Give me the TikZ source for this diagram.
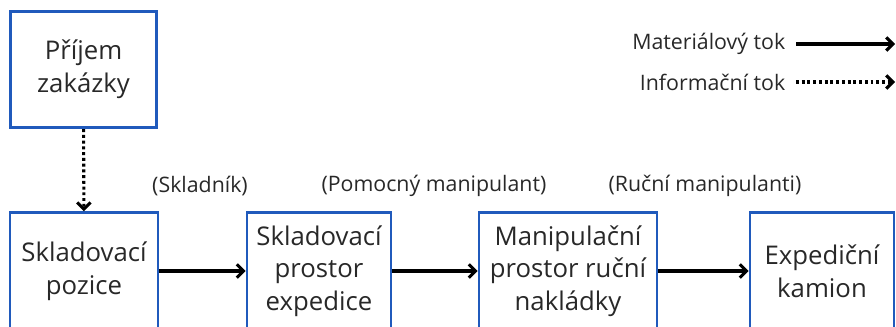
\documentclass[tikz,border=0pt]{standalone}
\usepackage{fontspec}
\setmainfont{Open Sans}
\usetikzlibrary{arrows.meta}
\definecolor{boxblue}{RGB}{32,90,188}
\definecolor{inkgrey}{RGB}{40,40,40}

\begin{document}
\begin{tikzpicture}[x=0.75pt,y=-0.75pt,
    stagebox/.style={draw=boxblue,line width=2.1pt,align=center,inner sep=0pt,text=inkgrey,
        font=\fontsize{19.3}{24.5}\selectfont,minimum height=87.5pt},
    worker/.style={text=inkgrey,font=\fontsize{16}{19}\selectfont},
    legendtext/.style={text=inkgrey,font=\fontsize{16}{19}\selectfont,anchor=east},
    matflow/.style={line width=2.3pt,-{Straight Barb[length=5pt,width=10pt,line width=2.3pt]}},
    infoflow/.style={matflow,dash pattern=on 2.2pt off 2.1pt}]
    % fix the frame
    \clip (0,0) rectangle (896,326);
    % draw the stages
    \node[stagebox,minimum width=110pt] (prijem) at (83.5,69.5) {Příjem\\zakázky};
    \node[stagebox,minimum width=111pt] (pozice) at (84,271) {Skladovací\\pozice};
    \node[stagebox,minimum width=108pt] (prostor) at (319,271) {Skladovací\\prostor\\expedice};
    \node[stagebox,minimum width=133.5pt] (nakladka) at (568,271) {Manipulační\\prostor ruční\\nakládky};
    \node[stagebox,minimum width=108pt] (kamion) at (822,271) {Expediční\\kamion};
    % draw the workers
    \node[worker] (skladnik) at (200,186) {(Skladník)};
    \node[worker] (pomocny) at (434,186) {(Pomocný manipulant)};
    \node[worker] (rucni) at (705,186) {(Ruční manipulanti)};
    % draw the flows
    \draw[infoflow] (prijem) -- (pozice);
    \draw[matflow] (pozice) -- (prostor);
    \draw[matflow] (prostor) -- (nakladka);
    \draw[matflow] (nakladka) -- (kamion);
    % draw the legend
    \node[legendtext] (mattext) at (790,44) {Materiálový tok};
    \node[legendtext] (infotext) at (790,82) {Informační tok};
    \coordinate (matend) at (895,44);
    \coordinate (infoend) at (895,82);
    \draw[matflow] (mattext.east) ++(6,0) -- (matend);
    \draw[infoflow] (infotext.east) ++(6,0) -- (infoend);
\end{tikzpicture}
\end{document}
